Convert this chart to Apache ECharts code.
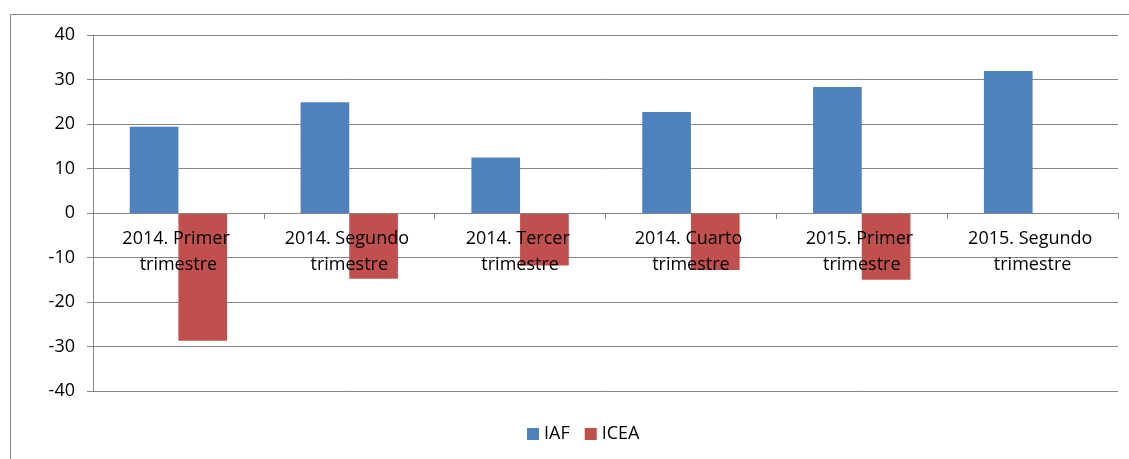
<!DOCTYPE html>
<html>
<head>
<meta charset="utf-8">
<script src="https://cdn.jsdelivr.net/npm/echarts@6/dist/echarts.min.js"></script>
<style>
  html, body { margin: 0; padding: 0; background: #fff; }
  #chart { width: 1129px; height: 459px; }
</style>
</head>
<body>
<div id="chart"></div>
<script>
// quarters on the x axis
const categories = [
  '2014. Primer trimestre',
  '2014. Segundo trimestre',
  '2014. Tercer trimestre',
  '2014. Cuarto trimestre',
  '2015. Primer trimestre',
  '2015. Segundo trimestre'
]
const iafValues = [19.4, 24.9, 12.5, 22.7, 28.3, 31.9]
const iceaValues = [-28.7, -14.8, -11.8, -12.8, -15.0, null]
const yTicks = { min: -40, max: 40, interval: 10 }

const gray = '#868686'
const font = 'Open Sans'

const dom = echarts.init(document.getElementById('chart'))
const option = {
  animation: false,
  color: ['#4F81BD', '#C0504D'],
  textStyle: { fontFamily: font },
  graphic: [
    {
      type: 'rect',
      shape: { x: 10.5, y: 14.5, width: 1140, height: 460 },
      style: { fill: 'none', stroke: gray, lineWidth: 1 },
      silent: true
    }
  ],
  grid: {
    left: 93,
    right: 11,
    top: 35,
    bottom: 68
  },
  legend: {
    bottom: 11,
    left: 522,
    itemWidth: 12,
    itemHeight: 12,
    itemGap: 15,
    icon: 'rect',
    textStyle: { fontFamily: font, fontSize: 18, color: '#000' },
    data: ['IAF', 'ICEA']
  },
  xAxis: {
    type: 'category',
    data: categories,
    z: 10,
    // the axis sits on the zero line of the value axis (half the plot height up)
    offset: -178,
    axisLine: { onZero: false, lineStyle: { color: gray, width: 1 } },
    axisTick: { show: true, length: 6, lineStyle: { color: gray } },
    axisLabel: {
      interval: 0,
      margin: 13,
      width: 150,
      overflow: 'break',
      fontFamily: font,
      fontSize: 18,
      lineHeight: 26,
      color: '#000'
    },
    splitLine: { show: false }
  },
  yAxis: {
    type: 'value',
    min: yTicks.min,
    max: yTicks.max,
    interval: yTicks.interval,
    axisLine: { show: true, lineStyle: { color: gray, width: 1 } },
    axisTick: { show: true, length: 6, lineStyle: { color: gray } },
    axisLabel: {
      margin: 18,
      fontFamily: font,
      fontSize: 18,
      color: '#000'
    },
    splitLine: { show: true, lineStyle: { color: gray, width: 1 } }
  },
  series: [
    {
      name: 'IAF',
      type: 'bar',
      barGap: '0%',
      barCategoryGap: '43%',
      data: iafValues
    },
    {
      name: 'ICEA',
      type: 'bar',
      barGap: '0%',
      barCategoryGap: '43%',
      data: iceaValues
    }
  ]
}
dom.setOption(option)
</script>
</body>
</html>
